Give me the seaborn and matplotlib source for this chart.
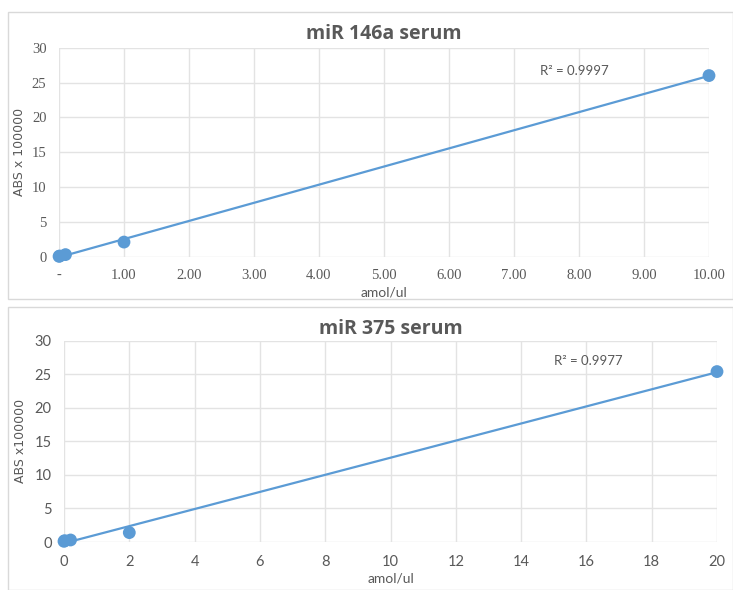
import numpy as np
import matplotlib
matplotlib.use("Agg")
import matplotlib.pyplot as plt
from matplotlib.patches import Rectangle
from matplotlib.ticker import FuncFormatter
import seaborn as sns

sns.set_style("white")

# miR 146a serum
conc_146a = [0.001, 0.01, 0.1, 1.0, 10.0]
abs_146a = [0.05, 0.1, 0.3, 2.1, 26.0]
r2_146a = "R² = 0.9997"

# miR 375 serum
conc_375 = [0.0, 0.02, 0.2, 2.0, 20.0]
abs_375 = [0.1, 0.2, 0.3, 1.4, 25.4]
r2_375 = "R² = 0.9977"

blue = "#5b9bd5"
grey_txt = "#595959"
grid_c = "#e3e3e3"

fig = plt.figure(figsize=(7.33, 5.90), dpi=100)

# panel frames
fig.patches.append(Rectangle((8 / 733, 1 - 299 / 590), 725 / 733, 287 / 590,
                             transform=fig.transFigure, fill=False,
                             edgecolor="#d9d9d9", lw=1))
fig.patches.append(Rectangle((8 / 733, 0.0), 725 / 733, 283 / 590,
                             transform=fig.transFigure, fill=False,
                             edgecolor="#d9d9d9", lw=1))

ax1 = fig.add_axes([59 / 733, 1 - 256.7 / 590, 650 / 733, 209 / 590])
ax2 = fig.add_axes([64 / 733, 1 - 542 / 590, 653 / 733, 201.3 / 590])


def style(ax, xlim, xticks, tickfont):
    ax.set_xlim(*xlim)
    ax.set_ylim(0, 30)
    ax.set_xticks(xticks)
    ax.set_yticks(range(0, 31, 5))
    ax.grid(True, color=grid_c, lw=1.0)
    ax.set_axisbelow(True)
    for s in ax.spines.values():
        s.set_visible(False)
    ax.tick_params(length=0, pad=9, labelsize=10.5, colors=grey_txt)
    for lab in ax.get_xticklabels() + ax.get_yticklabels():
        lab.set_family(tickfont)
    ax.set_xlabel("amol/ul", fontsize=10, color=grey_txt,
                  family="Lato", labelpad=3)


def draw(ax, x, y):
    sns.regplot(x=np.array(x), y=np.array(y), ax=ax, ci=None, truncate=True,
                color=blue,
                scatter_kws=dict(s=85, color=blue, alpha=1, zorder=3,
                                 edgecolors="none", clip_on=False),
                line_kws=dict(lw=1.6, color=blue, zorder=2))
    ax.set_xlabel("")
    ax.set_ylabel("")


# top panel
draw(ax1, conc_146a, abs_146a)
ax1.xaxis.set_major_formatter(FuncFormatter(
    lambda v, p: "-" if abs(v) < 1e-9 else f"{v:.2f}"))
style(ax1, (0, 10), np.arange(0, 11, 1), "Liberation Serif")
ax1.set_ylabel("ABS x 100000", fontsize=9, color=grey_txt, labelpad=4)
ax1.set_title("miR 146a serum", fontsize=14, fontweight="bold",
              color=grey_txt, family="Open Sans", pad=6)
ax1.text(7.4, 26.6, r2_146a, fontsize=9.5, color=grey_txt, family="Lato",
         va="center")

# bottom panel
draw(ax2, conc_375, abs_375)
style(ax2, (0, 20), np.arange(0, 21, 2), "Lato")
ax2.set_ylabel("ABS x100000", fontsize=9, color=grey_txt, labelpad=5)
ax2.set_title("miR 375 serum", fontsize=14, fontweight="bold",
              color=grey_txt, family="Open Sans", pad=5)
ax2.text(15.0, 27.0, r2_375, fontsize=9.5, color=grey_txt, family="Lato",
         va="center")

fig.savefig("out.png", dpi=100)
